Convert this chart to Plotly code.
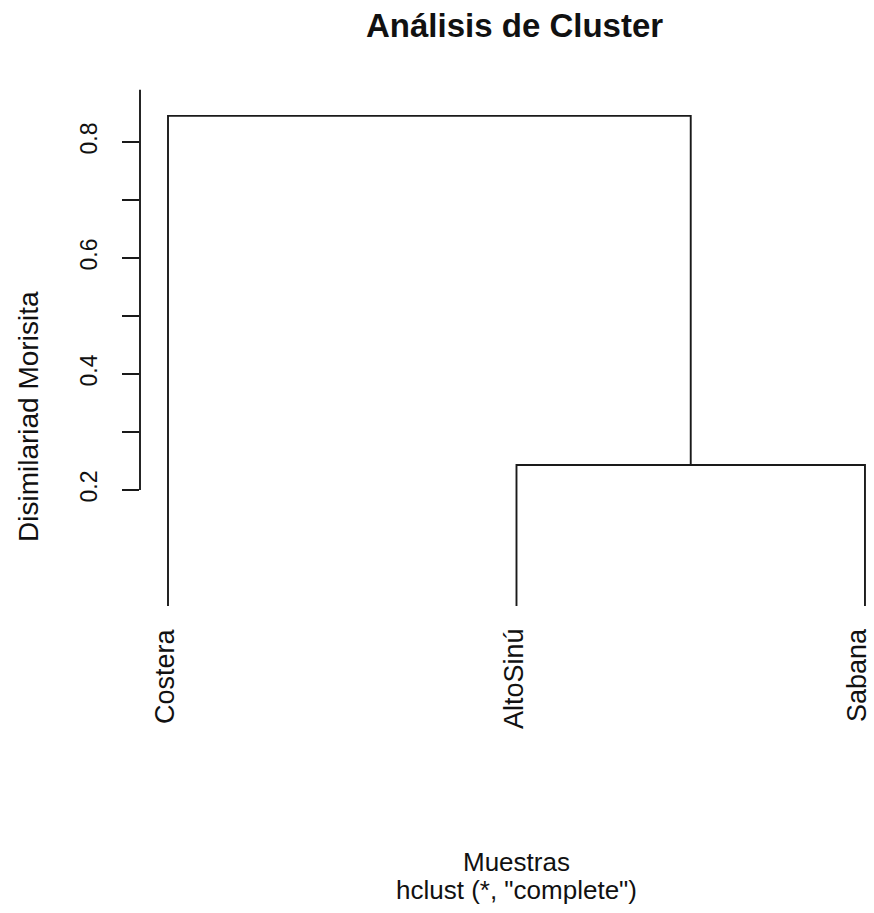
import plotly.graph_objects as go

# Dendrogram data (hierarchical clustering, complete linkage)
leaf_labels = ["Costera", "AltoSinú", "Sabana"]          # in plotting order
# merge steps in R's hclust convention: negative = leaf index (1-based, original order),
# positive = earlier merge step
original_labels = ["Costera", "AltoSinú", "Sabana"]
merge_pairs = [(-2, -3), (-1, 1)]
merge_heights = [0.243, 0.845]

y_ticks_major = [0.2, 0.4, 0.6, 0.8]
y_ticks_minor = [0.3, 0.5, 0.7]

FONT = "Liberation Sans, Arial, Helvetica, sans-serif"
INK = "#111111"
LINE = "#1a1a1a"

# x position of each leaf follows the leaf order
leaf_x = {original_labels.index(name) + 1: i + 1 for i, name in enumerate(leaf_labels)}

fig = go.Figure()

node_pos = {}  # merge step -> (x, height)


def node_xy(ref):
    if ref < 0:
        return leaf_x[-ref], 0.0
    return node_pos[ref]


for step, ((a, b), h) in enumerate(zip(merge_pairs, merge_heights), start=1):
    xa, ya = node_xy(a)
    xb, yb = node_xy(b)
    fig.add_trace(go.Scatter(
        x=[xa, xa, xb, xb], y=[ya, h, h, yb],
        mode="lines", line=dict(color=LINE, width=1.9),
        hoverinfo="skip", showlegend=False, cliponaxis=False,
    ))
    node_pos[step] = ((xa + xb) / 2, h)

# y axis line runs only across the labelled span
fig.add_shape(type="line", xref="paper", yref="y", x0=0, x1=0,
              y0=min(y_ticks_major), y1=0.89,
              line=dict(color=LINE, width=1.9))

# leaf labels hang below the leaf ends, reading bottom-to-top;
# the rightmost one is nudged inward so it stays inside the page
n_leaves = len(leaf_labels)
leaf_annotations = [
    dict(text=name, xref="x", yref="y",
         x=leaf_x[original_labels.index(name) + 1], y=0.0,
         xanchor="center", yanchor="top", yshift=-20,
         xshift=-8 if i == n_leaves - 1 else -3,
         textangle=-90, showarrow=False,
         font=dict(size=27, family=FONT, color=INK))
    for i, name in enumerate(leaf_labels)
]

fig.update_layout(
    width=874, height=913,
    margin=dict(l=140, r=0, t=67, b=290, autoexpand=False),
    plot_bgcolor="white", paper_bgcolor="white",
    font=dict(family=FONT, color=INK),
    showlegend=False,
    xaxis=dict(
        range=[0.91966, 3.0259],
        showticklabels=False, ticks="", showline=False, showgrid=False,
        zeroline=False, automargin=False,
    ),
    yaxis=dict(
        range=[-0.0293, 0.9293],
        tickmode="array", tickvals=y_ticks_major,
        ticktext=[f"{v:.1f}" for v in y_ticks_major],
        ticks="outside", ticklen=17, tickwidth=1.9, tickcolor=LINE,
        minor=dict(tickmode="array", tickvals=y_ticks_minor, ticks="outside",
                   ticklen=17, tickwidth=1.9, tickcolor=LINE, showgrid=False),
        tickangle=-90, showline=False, showgrid=False, zeroline=False,
        tickfont=dict(size=23, family=FONT, color=INK),
        ticklabelstandoff=16, automargin=False,
    ),
    annotations=leaf_annotations + [
        dict(text="<b>Análisis de Cluster</b>", xref="paper", yref="paper",
             x=(514 - 140) / 734, y=(623 - 25) / 556, xanchor="center", yanchor="middle",
             showarrow=False, font=dict(size=33, family=FONT, color=INK)),
        dict(text="Disimilariad Morisita", xref="paper", yref="paper",
             x=(28 - 140) / 734, y=(623 - 417) / 556, xanchor="center", yanchor="middle",
             textangle=-90, showarrow=False, font=dict(size=28, family=FONT, color=INK)),
        dict(text="Muestras", xref="x", yref="paper",
             x=2, y=(623 - 862) / 556, xanchor="center", yanchor="middle",
             showarrow=False, font=dict(size=26, family=FONT, color=INK)),
        dict(text='hclust (*, "complete")', xref="x", yref="paper",
             x=2, y=(623 - 890) / 556, xanchor="center", yanchor="middle",
             showarrow=False, font=dict(size=26, family=FONT, color=INK)),
    ],
)

fig.write_html("out.html")
